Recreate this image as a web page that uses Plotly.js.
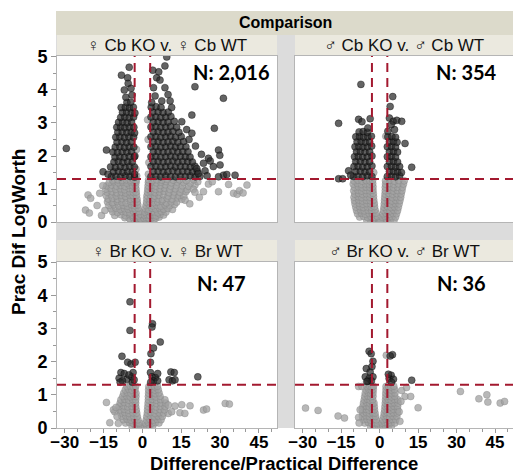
<!DOCTYPE html>
<html><head><meta charset="utf-8">
<script src="https://cdn.plot.ly/plotly-3.0.1.min.js"></script>
<style>html,body{margin:0;padding:0;background:#fff}#chart{width:513px;height:473px}</style>
</head><body><div id="chart"></div>
<script>
const panelTitles = ['\u2640 Cb KO v. \u2640 Cb WT','\u2642 Cb KO v. \u2642 Cb WT','\u2640 Br KO v. \u2640 Br WT','\u2642 Br KO v. \u2642 Br WT'];
const panelCounts = ['N: 2,016','N: 354','N: 47','N: 36'];
const headerText = 'Comparison';
const xTitle = 'Difference/Practical Difference';
const yTitle = 'Prac Dif LogWorth';
const logWorthCut = 1.3;
const diffCuts = [-3, 3];

const tlGray = [
[-4.5,.05],[-3.2,.08],[-2.1,.04],[-1.2,.06],[-0.5,.03],[0.4,.04],[1.1,.07],[2.0,.05],[3.1,.08],[4.4,.04],[-0.2,.01],[0.2,.02],
[-6.8,.13],[-5.1,.11],[-3.6,.14],[-2.4,.12],[-1.4,.15],[-0.7,.1],[0.6,.12],[1.5,.14],[2.6,.11],[3.8,.13],[5.2,.12],[6.5,.15],
[-10.7,.2],[-8.3,.22],[-6.6,.19],[-5.0,.23],[-3.7,.2],[-2.5,.22],[-1.5,.19],[-0.8,.24],[0.8,.21],[1.7,.23],[2.8,.2],[4.0,.22],[5.3,.19],[6.9,.23],[8.2,.21],
[-11.5,.31],[-9.6,.29],[-7.9,.32],[-6.3,.3],[-4.8,.28],[-3.5,.33],[-2.3,.3],[-1.2,.32],[1.0,.3],[2.1,.33],[3.3,.29],[4.6,.31],[6.0,.28],[7.4,.32],[9.1,.3],
[-12.2,.4],[-10.3,.42],[-8.6,.38],[-7.0,.41],[-5.5,.39],[-4.1,.43],[-2.8,.4],[-1.6,.42],[1.2,.41],[2.4,.38],[3.7,.42],[5.1,.4],[6.6,.43],[8.2,.39],[9.9,.41],[11.6,.38],
[-13.0,.5],[-11.0,.52],[-9.1,.49],[-7.4,.51],[-5.8,.48],[-4.3,.53],[-3.0,.5],[-1.8,.52],[1.4,.5],[2.6,.53],[4.0,.49],[5.5,.51],[7.1,.48],[8.8,.52],[10.6,.5],[12.4,.53],
[-13.5,.61],[-11.6,.59],[-9.7,.62],[-8.0,.6],[-6.3,.58],[-4.7,.63],[-3.3,.6],[-2.0,.61],[1.6,.6],[2.8,.62],[4.3,.59],[5.9,.61],[7.6,.63],[9.3,.58],[11.2,.61],[13.2,.6],
[-13.2,.7],[-11.4,.72],[-9.6,.69],[-7.9,.71],[-6.2,.73],[-4.6,.69],[-3.2,.71],[-2.1,.7],[1.7,.71],[3.0,.69],[4.5,.72],[6.1,.7],[7.8,.68],[9.6,.72],[11.5,.7],[13.6,.73],[15.2,.69],
[-14.0,.8],[-12.0,.82],[-10.1,.79],[-8.3,.81],[-6.6,.78],[-5.0,.82],[-3.6,.8],[-2.3,.81],[1.8,.8],[3.1,.82],[4.7,.79],[6.4,.81],[8.1,.83],[10.0,.79],[12.0,.81],[14.1,.8],[16.0,.78],
[-13.6,.9],[-11.7,.92],[-9.8,.89],[-8.1,.91],[-6.5,.88],[-4.9,.92],[-3.5,.9],[-2.4,.91],[2.0,.9],[3.3,.92],[4.9,.89],[6.6,.91],[8.4,.93],[10.3,.89],[12.3,.91],[14.5,.9],[16.8,.92],
[-14.2,1.0],[-12.2,1.02],[-10.3,.99],[-8.6,1.01],[-6.9,.98],[-5.3,1.02],[-3.8,1.0],[-2.5,1.01],[2.1,1.0],[3.5,1.02],[5.1,.99],[6.8,1.01],[8.6,1.03],[10.6,.99],[12.7,1.01],[15.0,1.0],[17.3,.98],
[-13.8,1.1],[-11.9,1.12],[-10.0,1.09],[-8.3,1.11],[-6.7,1.08],[-5.1,1.12],[-3.7,1.1],[-2.6,1.11],[2.2,1.1],[3.6,1.12],[5.2,1.09],[7.0,1.11],[8.9,1.13],[10.9,1.09],[13.1,1.11],[15.4,1.1],[17.9,1.08],[20.3,1.12],
[-12.8,1.2],[-11.0,1.22],[-9.3,1.19],[-7.6,1.21],[-6.0,1.18],[-4.5,1.22],[-3.2,1.2],[-2.4,1.21],[2.3,1.2],[3.7,1.22],[5.4,1.19],[7.2,1.21],[9.1,1.23],[11.2,1.19],[13.5,1.21],[15.9,1.2],[18.5,1.18],[21.4,1.22],
[-11.5,1.27],[-9.5,1.28],[-7.8,1.26],[-6.2,1.28],[-4.7,1.27],[-3.4,1.29],[-2.5,1.27],[2.4,1.28],[3.9,1.26],[5.6,1.28],[7.5,1.27],[9.6,1.29],[11.9,1.27],[14.3,1.28],[17.0,1.26],[19.8,1.28],
[-21,.82],[-20,.72],[-22,.36],[-20.5,.27],[-16.5,.87],[-15.3,1.1],[-17.5,.5],[-15.8,.2],[-14.5,.35],
[19.7,.99],[20.3,.9],[16.5,.66],[18.3,.55],[22,.75],[23.6,.92],[25.5,1.15],[27,1.22],[29.4,.92],[33.3,1.14],[35.2,.87],[36.6,.84],[37.5,.95],[38.9,.88],[40.4,1.12],
[2.0,3.1],[2.2,2.5],[-2.3,2.2],[2.5,1.8],[-2.5,1.6],[2.3,1.45],[-2.2,1.4]
];
const tlDark = [
[-12.0,1.38],[-10.2,1.39],[-8.4,1.37],[-6.6,1.4],[-4.8,1.38],[-3.0,1.36],
[-11.2,1.52],[-9.3,1.54],[-7.5,1.51],[-5.7,1.53],[-3.9,1.52],
[-12.3,1.67],[-10.4,1.66],[-8.5,1.68],[-6.7,1.66],[-4.9,1.69],[-3.1,1.67],
[-11.0,1.82],[-9.3,1.84],[-7.5,1.81],[-5.7,1.83],[-3.9,1.82],
[-10.6,1.97],[-8.7,1.98],[-6.9,1.96],[-5.1,1.99],[-3.2,1.97],
[-11.4,2.12],[-9.6,2.11],[-7.8,2.13],[-6.0,2.12],[-4.2,2.14],
[-10.5,2.27],[-8.7,2.28],[-6.9,2.26],[-5.1,2.28],[-3.3,2.27],
[-9.8,2.42],[-7.9,2.43],[-6.1,2.41],[-4.3,2.43],
[-10.3,2.57],[-8.7,2.58],[-6.9,2.56],[-5.2,2.58],[-3.4,2.57],
[-9.5,2.72],[-7.8,2.73],[-6.0,2.71],[-4.3,2.73],
[-9.9,2.87],[-8.4,2.88],[-6.8,2.86],[-5.1,2.88],[-3.3,2.87],
[-9.2,3.02],[-7.6,3.03],[-5.9,3.01],[-4.2,3.03],
[-8.4,3.17],[-6.8,3.18],[-5.1,3.16],[-3.4,3.18],
[-7.7,3.32],[-6.1,3.33],[-4.3,3.31],
[-8.2,3.47],[-6.6,3.48],[-5.0,3.46],[-3.5,3.48],
[-6.0,3.62],[-4.5,3.63],
[-8.1,4.45],[-5.7,4.37],[-5.1,4.69],[-7.0,4.0],[-5.5,4.2],[-4.4,4.05],[-6.4,3.78],[-4.0,3.85],
[-3.0,1.45],[-2.9,2.0],[-3.0,2.7],[-2.9,3.3],
[-29.4,2.23],[-13.9,2.18],[-15.2,1.52],[-13.3,1.45],
[3.3,1.38],[5.2,1.39],[7.1,1.37],[9.0,1.4],[10.9,1.38],[12.8,1.37],[14.7,1.39],[16.6,1.38],[18.5,1.4],[20.4,1.37],[22.2,1.38],
[4.2,1.53],[6.1,1.54],[8.0,1.52],[9.9,1.53],[11.8,1.55],[13.7,1.52],[15.6,1.54],[17.5,1.53],[19.4,1.52],[21.2,1.54],
[3.3,1.68],[5.2,1.69],[7.1,1.67],[9.0,1.68],[10.9,1.7],[12.8,1.67],[14.7,1.69],[16.6,1.68],[18.5,1.67],[20.3,1.69],
[4.2,1.83],[6.1,1.84],[8.0,1.82],[9.9,1.83],[11.8,1.85],[13.7,1.82],[15.6,1.84],[17.5,1.83],[19.3,1.82],
[3.3,1.98],[5.2,1.99],[7.1,1.97],[9.0,1.98],[10.9,2.0],[12.8,1.97],[14.7,1.99],[16.6,1.98],[18.4,1.97],
[4.2,2.13],[6.1,2.14],[8.0,2.12],[9.9,2.13],[11.8,2.15],[13.7,2.12],[15.6,2.14],[17.6,2.13],
[3.3,2.28],[5.2,2.29],[7.1,2.27],[9.0,2.28],[10.9,2.3],[12.8,2.27],[14.7,2.29],[16.8,2.28],
[4.2,2.43],[6.1,2.44],[8.0,2.42],[9.9,2.43],[11.8,2.45],[13.7,2.42],[15.9,2.44],
[3.3,2.58],[5.2,2.59],[7.1,2.57],[9.0,2.58],[10.9,2.6],[12.8,2.57],[15.0,2.59],
[4.2,2.73],[6.1,2.74],[8.0,2.72],[9.9,2.73],[11.8,2.75],[14.1,2.72],
[3.3,2.88],[5.2,2.89],[7.1,2.87],[9.0,2.88],[10.9,2.9],[13.2,2.87],
[4.2,3.03],[6.1,3.04],[8.0,3.02],[9.9,3.03],[12.3,3.05],
[3.3,3.18],[5.2,3.19],[7.1,3.17],[9.0,3.18],[11.0,3.2],
[4.0,3.33],[6.1,3.34],[8.0,3.32],[10.0,3.33],
[3.4,3.48],[5.3,3.49],[7.2,3.47],
[3.6,3.62],[4.9,3.82],[4.3,4.07],[5.5,4.37],[6.8,4.3],[8.7,4.07],[9.9,3.86],[10.7,3.67],[7.5,3.67],[8.7,4.73],[9.4,5.0],[6.3,4.55],[11.3,3.47],[4.0,4.6],
[20.3,4.1],[31.3,3.75],[19.1,3.24],[15.2,3.04],[17.1,2.8],[19.1,2.69],[27.8,2.84],[29.4,2.18],[29.9,2.02],[25.5,1.93],[27.4,1.68],[30.0,1.73],[23.6,1.78],[21.0,1.62],[21.6,1.47],[31.3,1.42],[35.8,1.42],[29.4,1.37],[24.2,1.55],[26.2,1.85],[32.6,1.44],[22.8,2.05],[20.5,2.3],[18.0,2.5],[25.0,1.4]
];

const trGray = [
[-5,.05],[-3.5,.07],[-2.2,.04],[-1.1,.06],[-0.3,.03],[0.6,.05],[1.6,.07],[2.8,.04],[4.2,.06],[5.6,.05],[-0.1,.01],[0.3,.02],
[-7.8,.15],[-6.2,.17],[-4.7,.14],[-3.3,.16],[-2.0,.15],[-0.9,.17],[1.0,.15],[2.1,.17],[3.4,.14],[4.8,.16],[6.2,.15],
[-8.6,.25],[-7.1,.27],[-5.6,.24],[-4.1,.26],[-2.8,.25],[-1.4,.27],[1.3,.25],[2.5,.27],[3.8,.24],[5.2,.26],[6.6,.25],
[-9.0,.35],[-7.5,.37],[-6.0,.34],[-4.5,.36],[-3.1,.35],[-1.8,.37],[1.5,.35],[2.8,.37],[4.1,.34],[5.5,.36],[7.0,.35],
[-9.3,.45],[-7.8,.47],[-6.3,.44],[-4.8,.46],[-3.3,.45],[-2.0,.47],[1.7,.45],[3.0,.47],[4.4,.44],[5.8,.46],[7.3,.45],
[-9.6,.55],[-8.0,.57],[-6.5,.54],[-5.0,.56],[-3.5,.55],[-2.1,.57],[1.8,.55],[3.2,.57],[4.6,.54],[6.1,.56],[7.6,.55],
[-9.8,.65],[-8.2,.67],[-6.7,.64],[-5.2,.66],[-3.7,.65],[-2.3,.67],[1.9,.65],[3.3,.67],[4.8,.64],[6.3,.66],[7.9,.65],
[-10.0,.75],[-8.4,.77],[-6.9,.74],[-5.3,.76],[-3.8,.75],[-2.4,.77],[2.0,.75],[3.5,.77],[5.0,.74],[6.5,.76],[8.2,.75],
[-9.7,.85],[-8.2,.87],[-6.7,.84],[-5.2,.86],[-3.7,.85],[-2.5,.87],[2.1,.85],[3.6,.87],[5.1,.84],[6.7,.86],[8.4,.85],
[-10.1,.95],[-8.5,.97],[-7.0,.94],[-5.4,.96],[-3.9,.95],[-2.6,.97],[2.2,.95],[3.7,.97],[5.3,.94],[6.9,.96],[8.7,.95],
[-9.8,1.05],[-8.3,1.07],[-6.8,1.04],[-5.3,1.06],[-3.8,1.05],[-2.6,1.07],[2.2,1.05],[3.8,1.07],[5.4,1.04],[7.0,1.06],[8.9,1.05],
[-10.3,1.15],[-8.7,1.17],[-7.1,1.14],[-5.5,1.16],[-4.0,1.15],[-2.7,1.17],[2.3,1.15],[3.9,1.17],[5.6,1.14],[7.3,1.16],[9.3,1.15],
[-10.0,1.25],[-8.4,1.27],[-6.8,1.24],[-5.2,1.26],[-3.8,1.25],[-2.7,1.27],[2.3,1.25],[4.0,1.27],[5.7,1.24],[7.5,1.26],[9.6,1.25],
[2.4,2.6],[-2.3,1.5]
];
const trDark = [
[-10.2,1.38],[-8.4,1.39],[-6.6,1.37],[-4.8,1.4],[-3.0,1.38],
[-9.3,1.53],[-7.5,1.54],[-5.7,1.52],[-3.9,1.53],
[-10.0,1.68],[-8.4,1.69],[-6.6,1.67],[-4.8,1.68],[-3.0,1.7],
[-9.3,1.83],[-7.5,1.84],[-5.7,1.82],[-3.9,1.83],
[-9.8,1.98],[-8.3,1.99],[-6.6,1.97],[-4.8,1.98],[-3.0,2.0],
[-9.0,2.13],[-7.5,2.14],[-5.7,2.12],[-3.9,2.13],
[-9.6,2.28],[-8.1,2.29],[-6.5,2.27],[-4.8,2.28],[-3.1,2.3],
[-8.8,2.43],[-7.2,2.44],[-5.6,2.42],[-3.9,2.43],
[-9.3,2.58],[-7.8,2.59],[-6.3,2.57],[-4.6,2.58],[-3.2,2.6],
[-8.0,2.73],[-6.4,2.74],[-4.8,2.72],
[-7.3,4.17],[-16.0,2.99],[-8.2,3.11],[-6.9,3.04],[-3.7,3.13],[-4.6,2.85],[-12.1,1.55],[-16.0,1.31],[-14.4,1.31],[-11.3,1.42],
[3.0,1.38],[4.6,1.39],[6.2,1.37],[7.8,1.4],
[3.8,1.53],[5.4,1.54],[7.0,1.52],
[3.0,1.68],[4.6,1.69],[6.2,1.67],[7.8,1.68],
[3.8,1.83],[5.4,1.84],[7.0,1.82],
[3.0,1.98],[4.6,1.99],[6.2,1.97],
[3.8,2.13],[5.4,2.14],[7.0,2.12],
[3.0,2.28],[4.6,2.29],[6.2,2.27],
[3.8,2.43],[5.4,2.44],[6.8,2.42],
[3.2,2.58],[4.8,2.59],[6.2,2.57],
[5.1,3.8],[4.1,3.5],[3.8,3.15],[5.3,3.05],[6.7,3.08],[8.6,3.05],[5.8,2.8],[9.9,2.38],[12.5,1.66],[8.5,1.5],[3.2,2.75],[4.5,2.95]
];

const blGray = [
[-4,.05],[-2.8,.07],[-1.7,.04],[-0.8,.06],[0,.02],[0.8,.05],[1.7,.07],[2.8,.04],[4,.06],
[-6.5,.15],[-5,.17],[-3.6,.14],[-2.3,.16],[-1.2,.15],[1.1,.15],[2.3,.17],[3.6,.14],[5,.16],[6.4,.15],
[-7.4,.25],[-5.9,.27],[-4.4,.24],[-3.0,.26],[-1.7,.25],[1.5,.25],[2.8,.27],[4.2,.24],[5.7,.26],[7.2,.25],
[-8.0,.35],[-6.4,.37],[-4.9,.34],[-3.4,.36],[-2.0,.35],[1.7,.35],[3.1,.37],[4.6,.34],[6.1,.36],[7.7,.35],
[-8.4,.45],[-6.8,.47],[-5.2,.44],[-3.7,.46],[-2.2,.45],[1.9,.45],[3.3,.47],[4.9,.44],[6.5,.46],[8.2,.45],[10,.44],
[-8.7,.55],[-7.1,.57],[-5.5,.54],[-3.9,.56],[-2.4,.55],[2.0,.55],[3.5,.57],[5.1,.54],[6.8,.56],[8.5,.55],
[-9.0,.65],[-7.3,.67],[-5.7,.64],[-4.1,.66],[-2.6,.65],[2.1,.65],[3.6,.67],[5.3,.64],[7.0,.66],[8.8,.65],
[-8.6,.75],[-7.0,.77],[-5.4,.74],[-3.9,.76],[-2.6,.75],[2.2,.75],[3.8,.77],[5.4,.74],[7.1,.76],[9.0,.75],
[-8.3,.85],[-6.8,.87],[-5.2,.84],[-3.8,.86],[-2.6,.85],[2.3,.85],[3.8,.87],[5.4,.84],[7.0,.86],[8.7,.85],
[-7.6,.95],[-6.1,.97],[-4.7,.94],[-3.4,.96],[-2.5,.95],[2.3,.95],[3.7,.97],[5.2,.94],[6.8,.96],
[-7.2,1.05],[-5.8,1.07],[-4.4,1.04],[-3.2,1.06],[-2.5,1.05],[2.4,1.05],[3.7,1.07],[5.0,1.04],[6.4,1.06],
[-6.6,1.15],[-5.3,1.17],[-4.0,1.14],[-2.9,1.16],[2.4,1.15],[3.6,1.17],[4.9,1.14],[6.1,1.16],
[-6.0,1.25],[-4.7,1.27],[-3.5,1.24],[-2.6,1.26],[2.5,1.25],[3.6,1.27],[4.8,1.24],[5.8,1.26],
[-13.9,.77],[-12.6,.16],[-9.3,.14],[-10.7,.49],[-11.2,.55],[-10.2,.62],[-9.8,.35],
[10,.69],[12.6,.66],[15.2,.7],[18.4,.67],[11.3,.49],[14.5,.46],[16.4,.44],[23.6,.54],[24.8,.57],[32,.74],[33.6,.72]
];
const blDark = [
[-4.8,3.8],[-4.8,2.94],[3.9,3.14],[3.7,3.04],[6.9,2.59],[4.3,2.41],[3.3,2.24],[3.1,1.98],[-7.9,2.16],[-5.7,1.98],[-4.4,1.93],[-2.8,1.98],
[-8.3,1.67],[-7.0,1.64],[-9.0,1.5],[-6.0,1.47],[-4.1,1.54],[-3.6,1.67],[-3.9,1.38],[-7.7,1.42],[-3.2,1.45],[-8.6,1.38],[-5.2,1.6],
[3.1,1.67],[3.7,1.54],[5.0,1.52],[5.9,1.64],[4.3,1.42],[5.9,1.42],[3.2,1.38],
[11.0,1.69],[12.3,1.67],[10.3,1.45],[11.6,1.42],[12.6,1.45],[21.4,1.54]
];

const brGray = [
[-3.5,.05],[-2.4,.07],[-1.4,.04],[-0.5,.06],[0.4,.03],[1.3,.05],[2.3,.07],[3.4,.04],[4.6,.06],
[-5.8,.15],[-4.4,.17],[-3.1,.14],[-1.9,.16],[-0.9,.15],[1.0,.15],[2.0,.17],[3.2,.14],[4.5,.16],[5.9,.15],
[-6.4,.25],[-5.0,.27],[-3.6,.24],[-2.3,.26],[-1.3,.25],[1.3,.25],[2.4,.27],[3.6,.24],[4.9,.26],[6.3,.25],
[-6.7,.35],[-5.3,.37],[-3.9,.34],[-2.6,.36],[-1.6,.35],[1.6,.35],[2.7,.37],[3.9,.34],[5.2,.36],[6.7,.35],
[-6.6,.45],[-5.2,.47],[-3.9,.44],[-2.7,.46],[-1.8,.45],[1.8,.45],[2.9,.47],[4.1,.44],[5.4,.46],[6.9,.45],
[-6.8,.55],[-5.4,.57],[-4.1,.54],[-2.9,.56],[-2.0,.55],[2.0,.55],[3.0,.57],[4.2,.54],[5.5,.56],[7.0,.55],
[-6.5,.65],[-5.2,.67],[-4.0,.64],[-2.9,.66],[-2.1,.65],[2.1,.65],[3.1,.67],[4.3,.64],[5.6,.66],[7.0,.65],
[-6.3,.75],[-5.0,.77],[-3.8,.74],[-2.8,.76],[-2.2,.75],[2.2,.75],[3.2,.77],[4.4,.74],[5.7,.76],[7.2,.75],
[-6.0,.85],[-4.8,.87],[-3.7,.84],[-2.7,.86],[2.3,.85],[3.3,.87],[4.5,.84],[5.8,.86],[7.1,.85],
[-5.8,.95],[-4.6,.97],[-3.5,.94],[-2.6,.96],[2.4,.95],[3.4,.97],[4.6,.94],[5.9,.96],
[-5.6,1.05],[-4.4,1.07],[-3.4,1.04],[-2.6,1.06],[2.4,1.05],[3.5,1.07],[4.7,1.04],[6.0,1.06],
[-5.3,1.15],[-4.2,1.17],[-3.2,1.14],[-2.5,1.16],[2.5,1.15],[3.5,1.17],[4.6,1.14],[5.8,1.16],
[-4.9,1.25],[-3.9,1.27],[-3.0,1.24],[-2.4,1.26],[2.5,1.25],[3.4,1.27],[4.4,1.24],[5.5,1.26],
[-8.2,1.25],[-6.9,1.25],[-28.9,.6],[-24,.53],[-16.2,.36],[-13.7,.3],[-8.2,.32],[-8.0,.15],[-7.6,.55],
[8.6,1.13],[10.5,1.22],[9.9,.95],[12.1,.95],[15,.61],[7.6,.49],[8.3,.8],[7.9,.2],
[31.5,1.1],[38.7,.88],[41.8,1.0],[42.2,.78],[47,.75],[48.7,.8],[2.6,2.19]
];
const brDark = [
[-4.1,2.31],[-3.3,2.24],[-2.6,2.01],[-5.2,1.79],[-3.7,1.69],[-5.6,1.54],[-4.1,1.49],[-2.6,1.54],[-4.6,1.41],[-3.2,1.42],[-5.0,1.4],[-3.0,1.85],
[5.0,2.21],[4.1,2.17],[4.5,1.59],[3.7,1.49],[5.4,1.47],[3.4,1.62],[4.6,1.38],[12.5,1.44]
];

const panels = [
  {gray: tlGray, dark: tlDark},
  {gray: trGray, dark: trDark},
  {gray: blGray, dark: blDark},
  {gray: brGray, dark: brDark}
];

const W = 513, H = 473;
const fx = px => px / W;
const fy = py => 1 - py / H;
const boxes = [
  {x0: 57, x1: 277, y0: 56, y1: 222},
  {x0: 295, x1: 513, y0: 56, y1: 222},
  {x0: 57, x1: 277, y0: 262, y1: 428},
  {x0: 295, x1: 513, y0: 262, y1: 428}
];
const strips = [
  {x0: 57, x1: 277, y0: 35, y1: 56},
  {x0: 295, x1: 513, y0: 35, y1: 56},
  {x0: 57, x1: 277, y0: 240, y1: 262},
  {x0: 295, x1: 513, y0: 240, y1: 262}
];
const gutters = [
  {x0: 277, x1: 295, y0: 35, y1: 428},
  {x0: 56, x1: 513, y0: 222, y1: 240},
  {x0: 56, x1: 57, y0: 35, y1: 428}
];
const countPos = [[231, 72], [466, 72], [221, 283], [461, 283]];

const boldFont = (size) => ({family: 'Liberation Sans, Arial, sans-serif', size: size, color: '#000', weight: 'bold'});
const traces = [];
const layout = {
  width: W, height: H, margin: {l: 0, r: 0, t: 0, b: 0},
  paper_bgcolor: 'rgb(255,255,255)', plot_bgcolor: 'rgb(255,255,255)',
  showlegend: false, shapes: [], annotations: []
};
const rectShape = (r, color) => ({type: 'rect', xref: 'paper', yref: 'paper', x0: fx(r.x0), x1: fx(r.x1), y0: fy(r.y1), y1: fy(r.y0),
  fillcolor: color, line: {width: 0}, layer: 'below'});

gutters.forEach(g => layout.shapes.push(rectShape(g, 'rgb(220,220,220)')));
layout.shapes.push(rectShape({x0: 56, x1: 513, y0: 11, y1: 35}, 'rgb(220,218,203)'));

panels.forEach((p, i) => {
  const sx = i === 0 ? '' : String(i + 1);
  const xa = 'x' + sx, ya = 'y' + sx;
  traces.push({
    type: 'scatter', mode: 'markers', xaxis: xa, yaxis: ya,
    x: p.gray.map(d => d[0]), y: p.gray.map(d => d[1]),
    marker: {size: 7, color: 'rgba(160,160,160,0.75)', line: {color: 'rgba(130,130,130,0.6)', width: 0.6}},
    hoverinfo: 'skip'
  });
  traces.push({
    type: 'scatter', mode: 'markers', xaxis: xa, yaxis: ya,
    x: p.dark.map(d => d[0]), y: p.dark.map(d => d[1]),
    marker: {size: 7, color: 'rgba(40,40,40,0.72)', line: {color: 'rgba(0,0,0,0.6)', width: 0.6}},
    hoverinfo: 'skip'
  });
  const b = boxes[i];
  const left = (i % 2 === 0), bottom = (i >= 2);
  layout['xaxis' + sx] = {
    domain: [fx(b.x0), fx(b.x1)], range: [-33, 52], anchor: ya,
    showgrid: false, zeroline: false, showline: true, mirror: true, linecolor: '#b5b5b5', linewidth: 1,
    ticks: bottom ? 'outside' : '', ticklen: 4, tickcolor: '#999', dtick: 15, tick0: 0,
    showticklabels: bottom, tickfont: boldFont(17), ticklabelstandoff: -5,
    minor: bottom ? {dtick: 5, ticks: 'outside', ticklen: 3, tickcolor: '#999', showgrid: false} : {showgrid: false}
  };
  layout['yaxis' + sx] = {
    domain: [fy(b.y1), fy(b.y0)], range: bottom ? [0, 5] : [0, 5.03], anchor: xa,
    showgrid: false, zeroline: false, showline: true, mirror: true, linecolor: '#b5b5b5', linewidth: 1,
    ticks: left ? 'outside' : '', ticklen: 5, tickcolor: '#999', dtick: 1, tick0: 0,
    showticklabels: left, tickfont: boldFont(18),
    minor: left ? {dtick: 0.5, ticks: 'outside', ticklen: 3, tickcolor: '#999', showgrid: false} : {showgrid: false}
  };
  const s = strips[i];
  layout.shapes.push(rectShape(s, 'rgb(235,233,223)'));
  layout.annotations.push({xref: 'paper', yref: 'paper', x: fx((s.x0 + s.x1) / 2), y: fy((s.y0 + s.y1) / 2),
    text: panelTitles[i], showarrow: false, xanchor: 'center', yanchor: 'middle',
    font: {family: 'Liberation Sans, Arial, DejaVu Sans, sans-serif', size: 17, color: '#111'}});
  layout.annotations.push({xref: 'paper', yref: 'paper', x: fx(countPos[i][0]), y: fy(countPos[i][1]),
    text: panelCounts[i], showarrow: false, xanchor: 'center', yanchor: 'middle',
    font: {family: 'Lato, Open Sans, sans-serif', size: 20, color: '#000', weight: 'bold'}});
  const dashLine = {color: '#a3192f', width: 2, dash: '9px,6px'};
  diffCuts.forEach(c => {
    layout.shapes.push({type: 'line', xref: xa, yref: ya + ' domain', x0: c, x1: c, y0: 0, y1: 1, line: dashLine, layer: 'above'});
  });
  layout.shapes.push({type: 'line', xref: xa + ' domain', yref: ya, x0: 0, x1: 1, y0: logWorthCut, y1: logWorthCut, line: dashLine, layer: 'above'});
});

layout.annotations.push({xref: 'paper', yref: 'paper', x: fx(285), y: fy(23), text: headerText, showarrow: false,
  xanchor: 'center', yanchor: 'middle', font: boldFont(16)});
layout.annotations.push({xref: 'paper', yref: 'paper', x: fx(284), y: fy(463.5), text: xTitle, showarrow: false,
  xanchor: 'center', yanchor: 'middle', font: boldFont(18.5)});
layout.annotations.push({xref: 'paper', yref: 'paper', x: fx(18), y: fy(232), text: yTitle, showarrow: false, textangle: -90,
  xanchor: 'center', yanchor: 'middle', font: boldFont(19)});

Plotly.newPlot('chart', traces, layout, {staticPlot: true, displayModeBar: false});
</script></body></html>
